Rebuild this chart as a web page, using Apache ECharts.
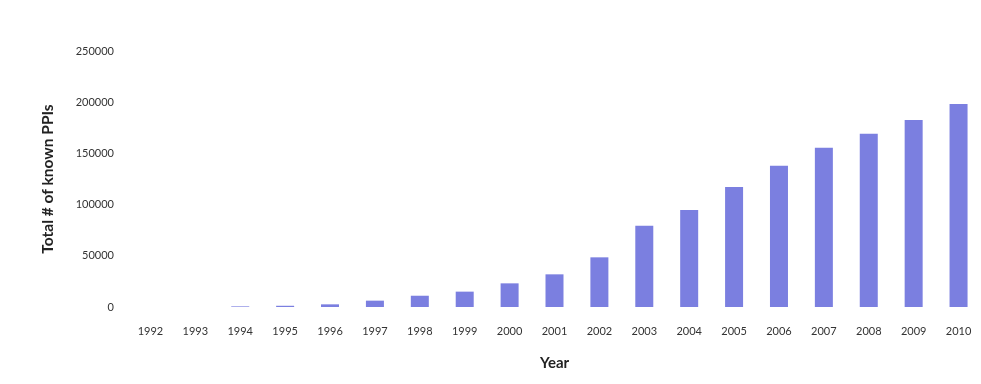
<!DOCTYPE html>
<html><head><meta charset="utf-8">
<script src="https://cdn.jsdelivr.net/npm/echarts@6/dist/echarts.min.js"></script>
<style>html,body{margin:0;padding:0;background:#fff}#c{width:981px;height:384px}</style>
</head><body><div id="c"></div>
<script>
const years = ['1992','1993','1994','1995','1996','1997','1998','1999','2000','2001','2002','2003','2004','2005','2006','2007','2008','2009','2010'];
const knownPPIs = [0,0,600,1200,2600,6200,11000,15000,23100,31900,48500,79400,94700,117200,138000,155600,169200,182600,198200];
const yTicks = [0,50000,100000,150000,200000,250000];

const chart = echarts.init(document.getElementById('c'));
chart.setOption({
  animation:false,
  backgroundColor:'#fff',
  grid:{left:128, top:51, width:856, height:256},
  xAxis:{
    type:'category', data:years,
    name:'Year', nameLocation:'middle', nameGap:49,
    nameTextStyle:{fontFamily:'Lato', fontWeight:'bold', fontSize:15, color:'#222'},
    axisLine:{show:false}, axisTick:{show:false},
    axisLabel:{fontFamily:'Lato', fontSize:11, color:'#333', margin:19}
  },
  yAxis:{
    type:'value', min:yTicks[0], max:yTicks[yTicks.length-1], interval:50000,
    name:'Total # of known PPIs', nameLocation:'middle', nameGap:72, nameRotate:90,
    nameTextStyle:{fontFamily:'Lato', fontWeight:'bold', fontSize:15.5, color:'#222'},
    axisLine:{show:false}, axisTick:{show:false}, splitLine:{show:false},
    axisLabel:{fontFamily:'Lato', fontSize:11, color:'#333', margin:14, formatter:function(v){return String(v);}}
  },
  series:[{type:'bar', data:knownPPIs, barWidth:18, itemStyle:{color:'#7b7fe0'}}]
});
</script></body></html>
